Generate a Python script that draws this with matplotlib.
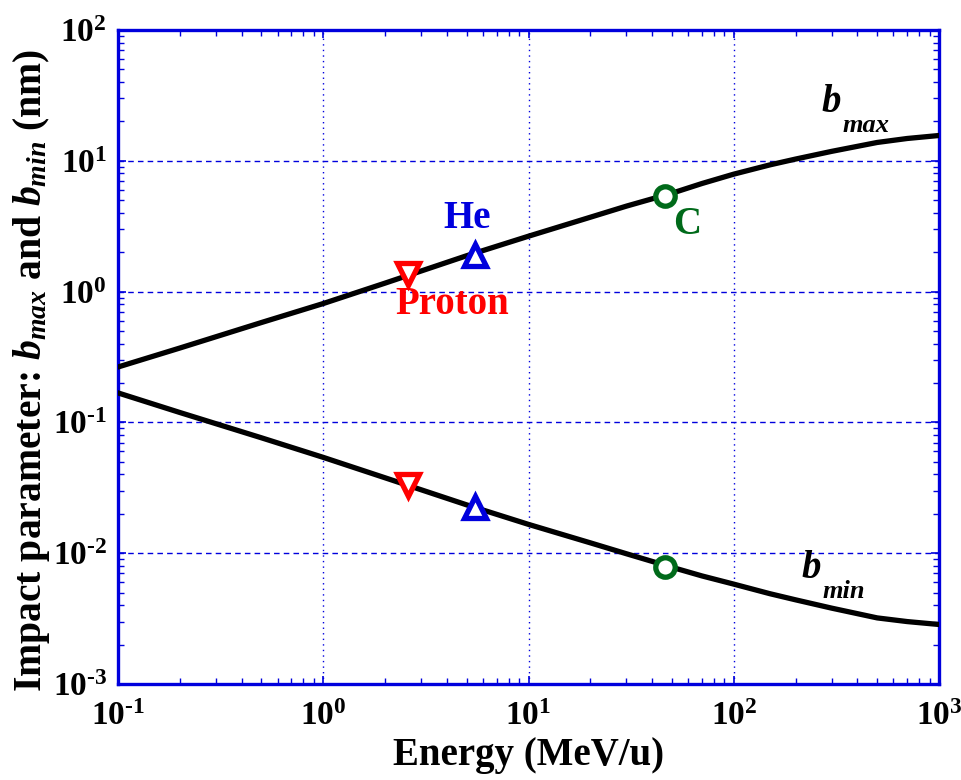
import numpy as np
import matplotlib
matplotlib.use("Agg")
import matplotlib.pyplot as plt
from matplotlib.ticker import FuncFormatter, LogLocator

plt.rcParams['font.family'] = ['Liberation Serif', 'DejaVu Serif']
plt.rcParams['font.weight'] = 'bold'
plt.rcParams['mathtext.fontset'] = 'custom'
plt.rcParams['mathtext.rm'] = 'Liberation Serif:bold'
plt.rcParams['mathtext.bf'] = 'Liberation Serif:bold'
plt.rcParams['mathtext.it'] = 'Liberation Serif:italic:bold'

# Data
energy = [0.1, 0.2, 0.5, 1, 2, 5, 10, 20, 30, 50, 70, 100, 150, 200, 300, 500, 700, 1000]
b_max = [0.265, 0.37, 0.58, 0.81, 1.16, 1.88, 2.65, 3.7, 4.5, 5.65, 6.7, 7.9, 9.3, 10.3, 11.8, 13.8, 14.8, 15.6]
b_min = [0.168, 0.119, 0.0762, 0.054, 0.0377, 0.0234, 0.0166, 0.0120, 0.0099, 0.0078, 0.0067, 0.0058, 0.0049, 0.0044, 0.0038, 0.0032, 0.0030, 0.00285]

ions = ["Proton", "He", "C"]
ion_energy = [2.59, 5.49, 46.3]
ion_bmax = [1.36, 1.9, 5.37]
ion_bmin = [0.033, 0.0225, 0.00785]

blue = '#0000dd'
ion_colors = ['#ff0000', '#0000dd', '#006a1a']
ion_markers = ['v', '^', 'o']

fig = plt.figure(figsize=(9.61, 7.8), dpi=100)
ax = fig.add_axes([0.1228, 0.1231, 0.8543, 0.8385])

ax.plot(energy, b_max, color='black', lw=3.8, zorder=3)
ax.plot(energy, b_min, color='black', lw=3.8, zorder=3)

for e, hi, lo, c, m in zip(ion_energy, ion_bmax, ion_bmin, ion_colors, ion_markers):
    ms = 14 if m == 'o' else 16.5
    for y in (hi, lo):
        ax.plot(e, y, marker=m, ms=ms, mfc='white', mec=c, mew=3.8, zorder=4)

ax.set_xscale('log')
ax.set_yscale('log')
ax.set_xlim(0.1, 1000)
ax.set_ylim(1e-3, 1e2)

ax.xaxis.set_major_locator(LogLocator(base=10, numticks=10))
ax.yaxis.set_major_locator(LogLocator(base=10, numticks=10))
ax.xaxis.set_minor_locator(LogLocator(base=10, subs=np.arange(2, 10), numticks=20))
ax.yaxis.set_minor_locator(LogLocator(base=10, subs=np.arange(2, 10), numticks=20))


def decade(v, pos):
    n = round(np.log10(v))
    if n < 0:
        return r'$\mathbf{10^{\text{-}%d}}$' % (-n)
    return r'$\mathbf{10^{%d}}$' % n


ax.xaxis.set_major_formatter(FuncFormatter(decade))
ax.yaxis.set_major_formatter(FuncFormatter(decade))

ax.tick_params(which='both', direction='in', top=True, right=True, color=blue, labelsize=24)
ax.tick_params(which='major', length=6, width=1.2)
ax.tick_params(which='minor', length=4.5, width=1.0)
ax.tick_params(axis='x', pad=12)
ax.tick_params(axis='y', pad=8)

for s in ax.spines.values():
    s.set_color(blue)
    s.set_linewidth(2.4)

ax.grid(True, which='major', axis='x', color=blue, lw=1.0, ls=(0, (1, 3)))
ax.grid(True, which='major', axis='y', color=blue, lw=1.0, ls=(0, (4, 3)))

ax.set_xlabel('Energy (MeV/u)', fontsize=28, fontweight='bold', labelpad=4)
ax.set_ylabel(r'Impact parameter: $b_{max}$ and $b_{min}$ (nm)', fontsize=28.5, fontweight='bold')
ax.yaxis.set_label_coords(-0.08, 0.48)

# ion labels
ax.text(4.24, 0.79, 'Proton', color=ion_colors[0], fontsize=28, fontweight='bold', ha='center', va='center')
ax.text(5.01, 3.65, 'He', color=ion_colors[1], fontsize=28, fontweight='bold', ha='center', va='center')
ax.text(59.2, 3.28, 'C', color=ion_colors[2], fontsize=28, fontweight='bold', ha='center', va='center')

# curve labels
ax.text(269, 23.6, 'b', fontsize=28, fontweight='bold', style='italic', ha='left', va='baseline')
ax.text(337, 16.6, 'max', fontsize=19, fontweight='bold', style='italic', ha='left', va='baseline')
ax.text(215, 0.00644, 'b', fontsize=28, fontweight='bold', style='italic', ha='left', va='baseline')
ax.text(272, 0.00454, 'min', fontsize=19, fontweight='bold', style='italic', ha='left', va='baseline')

fig.savefig('out.png', dpi=100)
